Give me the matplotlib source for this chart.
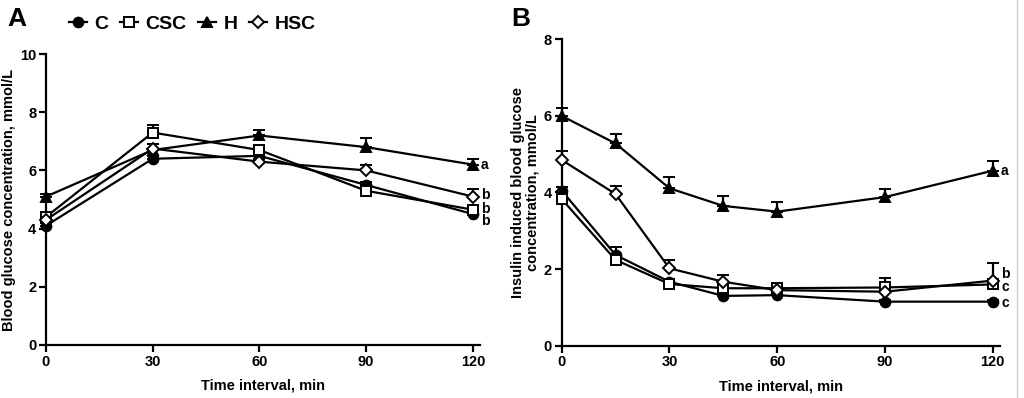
import matplotlib
matplotlib.use("Agg")
import matplotlib.pyplot as plt
from matplotlib.lines import Line2D
import numpy as np

plt.rcParams['font.family'] = ['Liberation Sans', 'DejaVu Sans']
plt.rcParams['font.weight'] = 'bold'

# ---- Panel A data (glucose tolerance) ----
time_a = [0, 30, 60, 90, 120]
c_a = [4.1, 6.4, 6.5, 5.5, 4.5]
csc_a = [4.4, 7.3, 6.7, 5.3, 4.65]
h_a = [5.1, 6.7, 7.2, 6.8, 6.2]
hsc_a = [4.3, 6.75, 6.3, 6.0, 5.1]
c_a_err = [0.1, 0.1, 0.1, 0.1, 0.1]
csc_a_err = [0.1, 0.25, 0.15, 0.1, 0.1]
h_a_err = [0.1, 0.2, 0.2, 0.3, 0.2]
hsc_a_err = [0.1, 0.15, 0.1, 0.2, 0.25]
sig_a = ['a', 'b', 'b', 'b']
sig_a_y = [6.2, 5.14, 4.68, 4.25]

# ---- Panel B data (insulin tolerance) ----
time_b = [0, 15, 30, 45, 60, 90, 120]
c_b = [4.05, 2.37, 1.67, 1.3, 1.32, 1.15, 1.15]
csc_b = [3.83, 2.24, 1.61, 1.5, 1.5, 1.52, 1.6]
h_b = [6.0, 5.28, 4.11, 3.65, 3.5, 3.88, 4.57]
hsc_b = [4.85, 3.96, 2.02, 1.67, 1.45, 1.41, 1.7]
c_b_err = [0.1, 0.2, 0.08, 0.05, 0.05, 0.05, 0.05]
csc_b_err = [0.1, 0.1, 0.08, 0.1, 0.08, 0.25, 0.1]
h_b_err = [0.2, 0.25, 0.3, 0.25, 0.25, 0.2, 0.25]
hsc_b_err = [0.23, 0.22, 0.22, 0.18, 0.08, 0.1, 0.45]
sig_b = ['a', 'b', 'c', 'c']
sig_b_y = [4.57, 1.87, 1.54, 1.11]

groups = ['C', 'CSC', 'H', 'HSC']
styles = {
    'C': dict(marker='o', mfc='black', ms=7),
    'CSC': dict(marker='s', mfc='white', ms=7.5),
    'H': dict(marker='^', mfc='black', ms=7.5),
    'HSC': dict(marker='D', mfc='white', ms=6.5),
}

fig = plt.figure(figsize=(10.24, 3.98), dpi=100)
axA = fig.add_axes([0.0449, 0.1332, 0.4238, 0.7311])
axB = fig.add_axes([0.5485, 0.1314, 0.4280, 0.7699])


def draw(ax, t, series, errs):
    for g, y, e in zip(groups, series, errs):
        st = styles[g]
        ax.errorbar(t, y, yerr=[np.zeros(len(e)), e], color='black', lw=1.6,
                    marker=st['marker'], mfc=st['mfc'], mec='black', mew=1.4,
                    ms=st['ms'], capsize=4, capthick=1.6, elinewidth=1.6,
                    clip_on=False, zorder=3)


def style(ax, ymax, ystep):
    for s in ['top', 'right']:
        ax.spines[s].set_visible(False)
    for s in ['left', 'bottom']:
        ax.spines[s].set_linewidth(1.6)
    ax.set_xlim(0, 122)
    ax.set_ylim(0, ymax)
    ax.set_xticks([0, 30, 60, 90, 120])
    ax.set_yticks(np.arange(0, ymax + 0.1, ystep))
    ax.tick_params(direction='out', length=5, width=1.6, labelsize=10.5, pad=2)
    for lab in ax.get_xticklabels() + ax.get_yticklabels():
        lab.set_fontweight('bold')
    ax.set_xlabel('Time interval, min', fontsize=10.5, fontweight='bold', labelpad=7)


draw(axA, time_a, [c_a, csc_a, h_a, hsc_a], [c_a_err, csc_a_err, h_a_err, hsc_a_err])
style(axA, 10, 2)
axA.set_ylabel('Blood glucose concentration, mmol/L', fontsize=10.5, fontweight='bold', labelpad=3)
for s, y in zip(sig_a, sig_a_y):
    axA.text(time_a[-1] + 2.3, y, s, fontsize=10, fontweight='bold', va='center', ha='left')

draw(axB, time_b, [c_b, csc_b, h_b, hsc_b], [c_b_err, csc_b_err, h_b_err, hsc_b_err])
style(axB, 8, 2)
axB.set_ylabel('Insulin induced blood glucose\nconcentration, mmol/L', fontsize=10.5,
               fontweight='bold', labelpad=3, linespacing=1.05)
for s, y in zip(sig_b, sig_b_y):
    axB.text(time_b[-1] + 2.3, y, s, fontsize=10, fontweight='bold', va='center', ha='left')

# legend
handles = [Line2D([], [], color='black', lw=1.6, marker=styles[g]['marker'],
                  mfc=styles[g]['mfc'], mec='black', mew=1.4, ms=styles[g]['ms'])
           for g in groups]
fig.legend(handles, groups, loc='center', bbox_to_anchor=(0.188, 0.94), ncol=4,
           frameon=False, handlelength=0.9, handletextpad=0.4, columnspacing=0.6,
           prop=dict(size=14, weight='bold'))

fig.text(0.007, 0.953, 'A', fontsize=19, fontweight='bold', va='center')
fig.text(0.499, 0.953, 'B', fontsize=19, fontweight='bold', va='center')

fig.add_artist(Line2D([0.9935, 0.9935], [0.0, 1.0], color='#cccccc', lw=1.0))

fig.savefig('out.png', dpi=100)
